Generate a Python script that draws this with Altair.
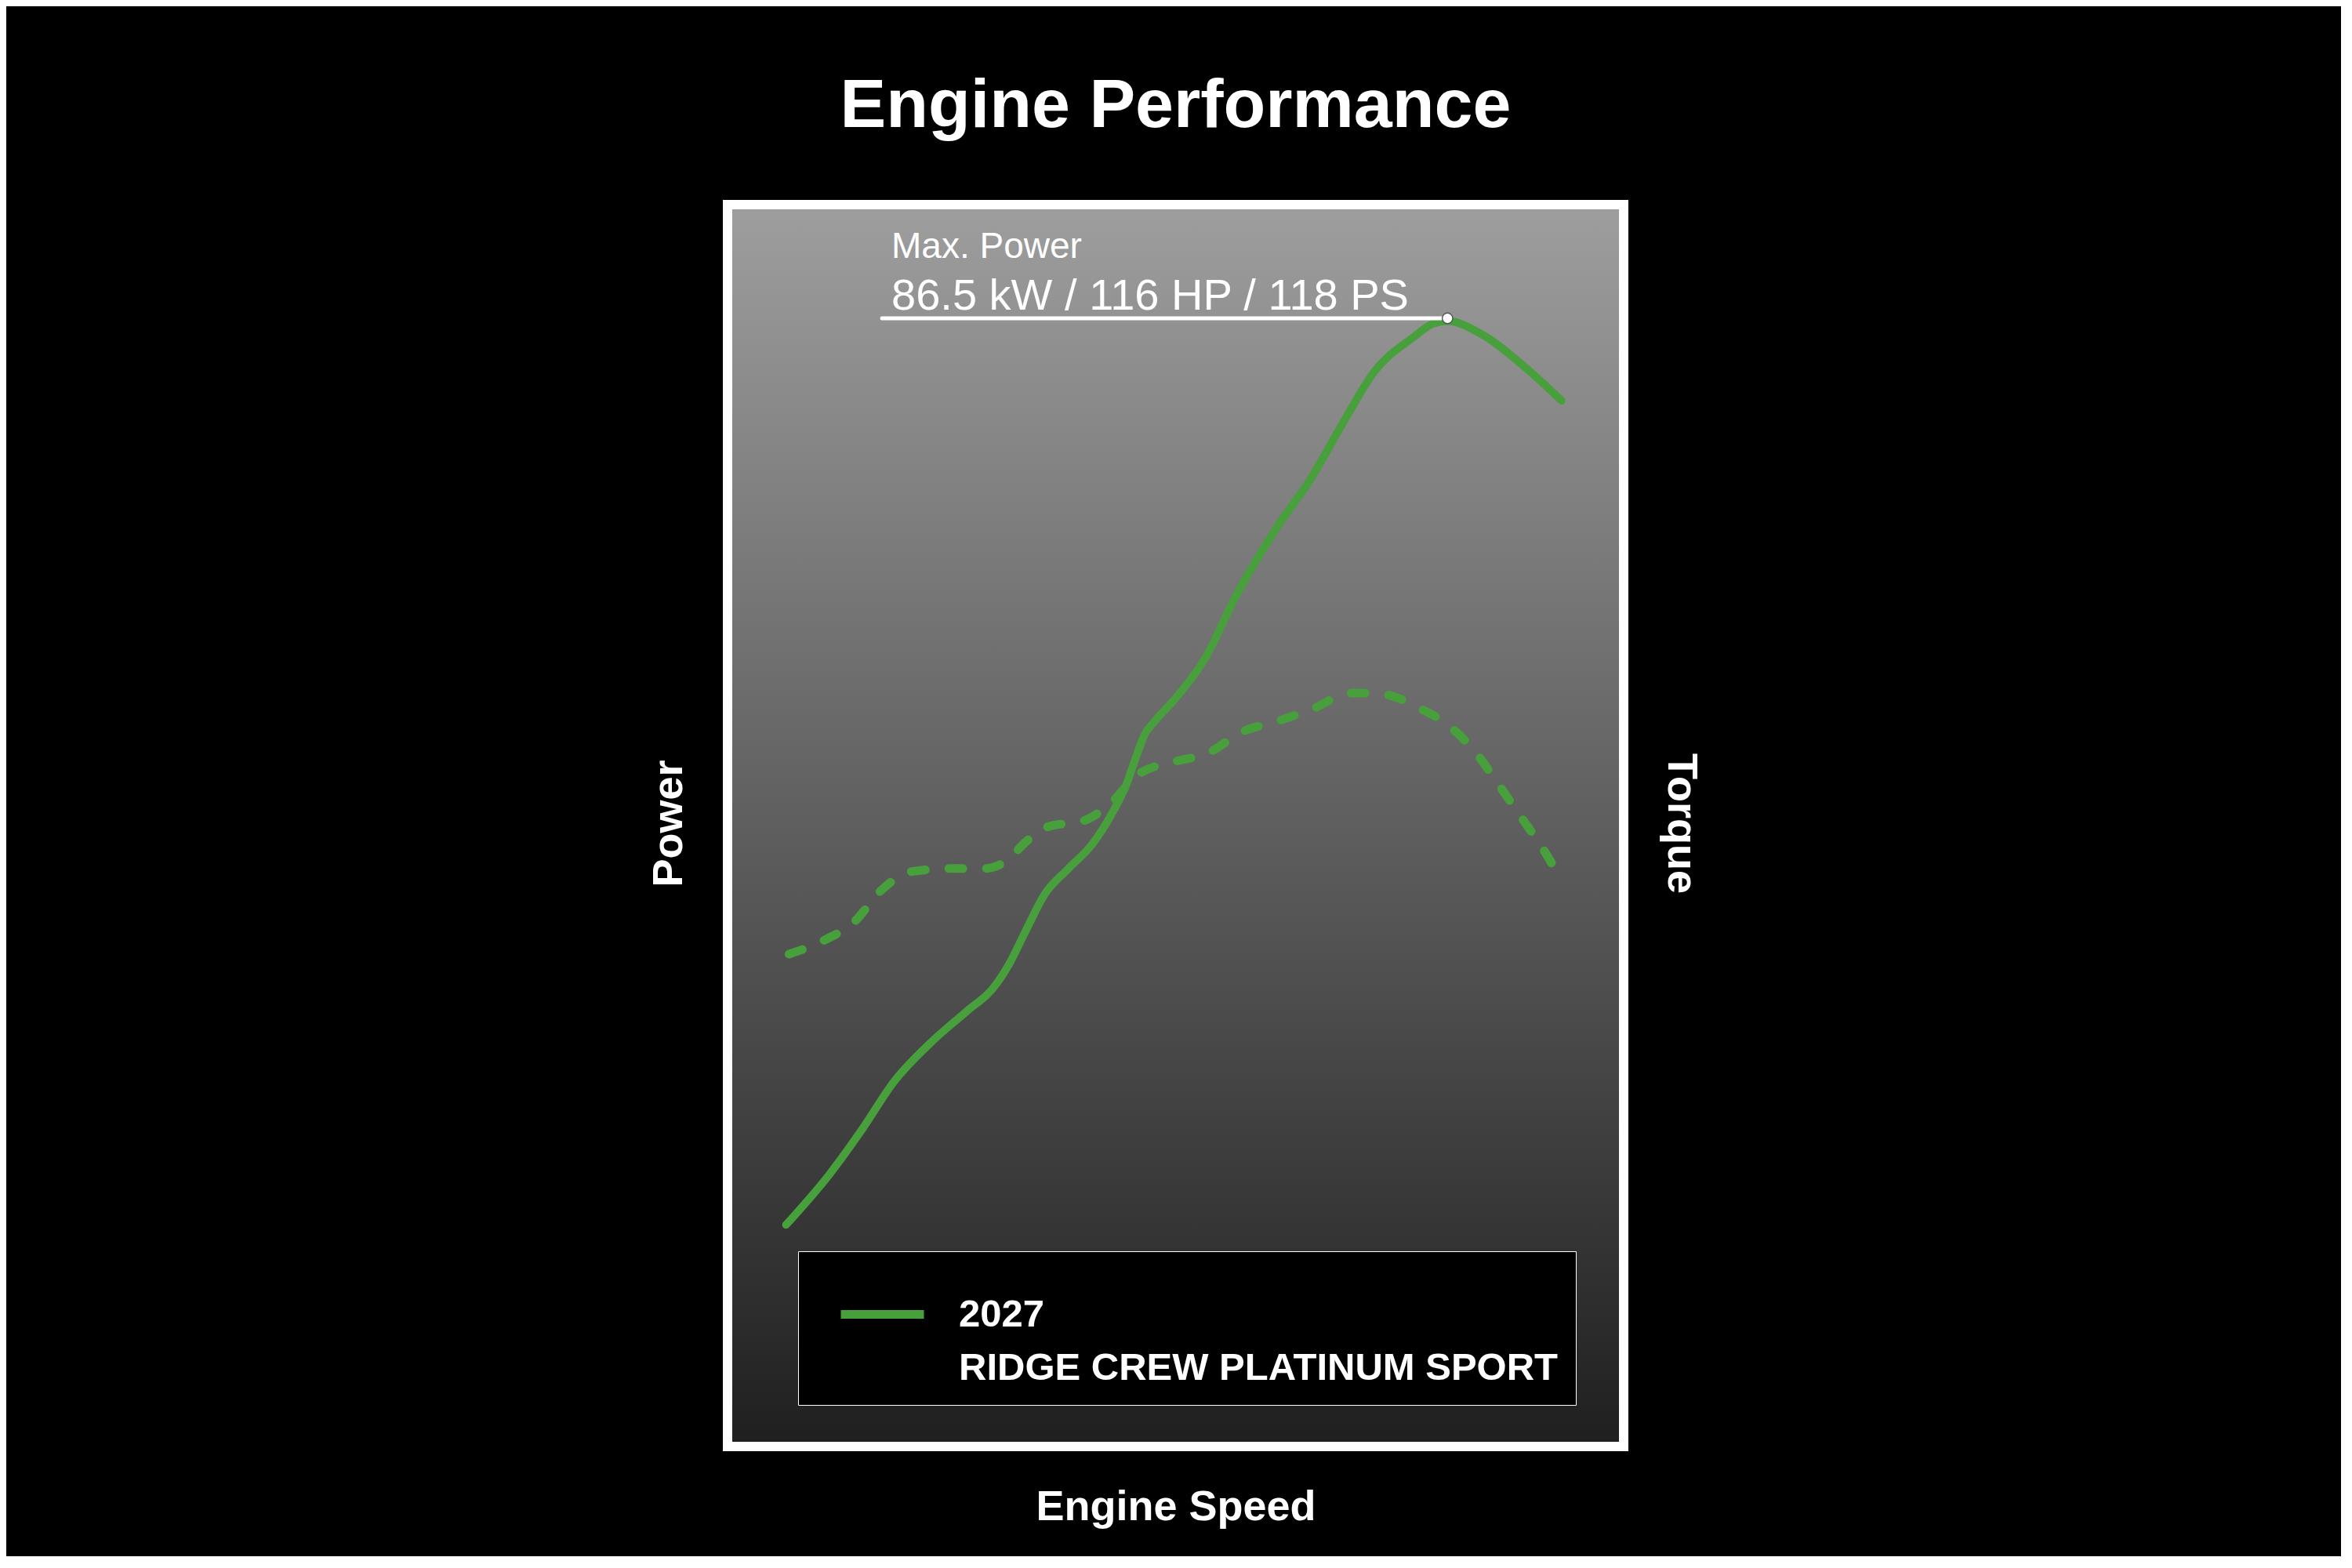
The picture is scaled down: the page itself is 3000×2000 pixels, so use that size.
import altair as alt
import pandas as pd

# ---------------- data ----------------
speed_power = [6.53, 11.37, 15.05, 18.55, 22.66, 26.68, 29.66, 31.41, 33.16, 35.43,
               37.99, 40.68, 42.78, 44.53, 45.67, 46.54, 47.68, 50.04, 53.28, 56.75,
               61.26, 65.11, 68.96, 72.14, 76.49, 78.67, 80.34, 84.19, 89.21, 93.06]
power = [17.85, 21.91, 25.57, 29.36, 32.51, 35.04, 36.93, 38.83, 41.35, 44.51,
         46.50, 48.48, 50.82, 53.35, 55.68, 57.32, 58.40, 60.29, 63.45, 68.52,
         73.96, 77.95, 82.78, 86.52, 89.30, 90.39, 90.63, 89.54, 86.77, 84.22]

speed_torque = [6.86, 10.71, 14.23, 17.07, 20.59, 25.10, 28.79, 31.30, 33.31, 35.82,
                39.72, 42.60, 45.93, 49.69, 53.72, 57.31, 61.26, 65.11, 69.63, 73.32,
                77.17, 80.34, 83.53, 86.04, 88.71, 91.22, 93.06]
torque = [39.65, 40.74, 42.31, 44.73, 46.30, 46.54, 46.54, 47.27, 48.71, 49.92,
          50.38, 51.70, 54.17, 55.11, 55.87, 57.51, 58.38, 59.34, 60.67, 60.55,
          59.46, 58.13, 55.84, 53.30, 50.52, 47.87, 45.57]

legend_label = "2027|RIDGE CREW PLATINUM SPORT"

callout_start = [17.24]
callout_end = [80.34]
callout_level = [90.85]
callout_labels = ["Max. Power", "86.5 kW / 116 HP / 118 PS"]
callout_label_x = [18.29, 18.29]
callout_label_y = [95.71, 91.54]

panel_x = [0]
panel_x2 = [100]
panel_y = [0]
panel_y2 = [100]

# ---------------- tables ----------------
power_df = pd.DataFrame({"speed": speed_power, "power": power, "series": legend_label})
torque_df = pd.DataFrame({"speed": speed_torque, "torque": torque})
rule_df = pd.DataFrame({"x": callout_start, "x2": callout_end, "y": callout_level})
dot_df = pd.DataFrame({"x": callout_end, "y": callout_level})
lab_df = pd.DataFrame({"x": callout_label_x, "y": callout_label_y, "label": callout_labels})
panel_df = pd.DataFrame({"x": panel_x, "x2": panel_x2, "y": panel_y, "y2": panel_y2})

GREEN = "#47a03b"
FONT = "Liberation Sans, Arial, sans-serif"
AXT = 54  # axis title font size

x_scale = alt.Scale(domain=[0, 100], nice=False, zero=False)
y_scale = alt.Scale(domain=[0, 100], nice=False, zero=False)


def xq(field):
    return alt.X(f"{field}:Q", scale=x_scale,
                 axis=alt.Axis(title="Engine Speed", domain=False, ticks=False, labels=False, grid=False,
                               titleX=571.5, titleY=93, titleAlign="center", titleBaseline="alphabetic",
                               titleFont=FONT, titleFontSize=AXT, titleFontWeight="bold",
                               titleColor="white"))


panel = alt.Chart(panel_df).mark_rect(
    fill={"gradient": "linear", "x1": 0, "y1": 0, "x2": 0, "y2": 1,
          "stops": [{"offset": 0, "color": "#9e9e9e"},
                    {"offset": 1, "color": "#1f1f1f"}]},
    stroke="white", strokeWidth=12,
).encode(
    x=xq("x"), x2="x2:Q",
    y=alt.Y("y:Q", scale=y_scale, axis=None), y2="y2:Q",
)

power_line = alt.Chart(power_df).mark_line(
    strokeWidth=10, interpolate="monotone", strokeCap="round", strokeJoin="round"
).encode(
    x=xq("speed"),
    y=alt.Y("power:Q", scale=y_scale,
            axis=alt.Axis(title="Power", orient="left", domain=False, ticks=False, labels=False,
                          grid=False, titleAngle=270, titleX=-75, titleY=789,
                          titleAlign="center", titleBaseline="middle",
                          titleFont=FONT, titleFontSize=AXT, titleFontWeight="bold",
                          titleColor="white")),
    color=alt.Color("series:N",
                    scale=alt.Scale(domain=[legend_label], range=[GREEN]),
                    legend=alt.Legend(title=None, orient="none", legendX=90, legendY=1335,
                                      direction="vertical", padding=22,
                                      fillColor="black", strokeColor="white",
                                      symbolType="stroke", symbolSize=11236,
                                      symbolStrokeWidth=11, symbolOffset=27,
                                      labelOffset=39, labelFont=FONT, labelFontSize=49,
                                      labelFontWeight="bold", labelColor="white",
                                      labelLimit=2000, labelBaseline="middle",
                                      labelExpr="split(datum.label, '|')")),
)

torque_line = alt.Chart(torque_df).mark_line(
    strokeWidth=11, interpolate="monotone", strokeCap="round", strokeDash=[18, 30],
    color=GREEN
).encode(
    x=xq("speed"),
    y=alt.Y("torque:Q", scale=y_scale,
            axis=alt.Axis(title="Torque", orient="right", domain=False, ticks=False, labels=False,
                          grid=False, titleAngle=90, titleX=72, titleY=789,
                          titleAlign="center", titleBaseline="middle",
                          titleFont=FONT, titleFontSize=AXT, titleFontWeight="bold",
                          titleColor="white")),
)

rule = alt.Chart(rule_df).mark_rule(color="white", strokeWidth=5, strokeCap="round").encode(
    x=xq("x"), x2="x2:Q",
    y=alt.Y("y:Q", scale=y_scale, axis=None),
)

dot = alt.Chart(dot_df).mark_point(filled=True, color="white", size=180, opacity=1,
                                   stroke="#555555", strokeWidth=1.5).encode(
    x=xq("x"),
    y=alt.Y("y:Q", scale=y_scale, axis=None),
)


def label_layer(idx, size):
    d = lab_df.iloc[[idx]]
    return alt.Chart(d).mark_text(
        align="left", baseline="alphabetic", font=FONT, fontSize=size, color="white"
    ).encode(x=xq("x"), y=alt.Y("y:Q", scale=y_scale, axis=None), text="label:N")


layers = [panel, torque_line, power_line, rule, dot, label_layer(0, 46), label_layer(1, 56)]

chart = alt.layer(*layers).resolve_scale(y="independent").properties(
    width=1143,
    height=1584,
    padding={"left": 920, "top": 253, "right": 915, "bottom": 140},
    autosize=alt.AutoSizeParams(type="none"),
    background="black",
    title=alt.TitleParams("Engine Performance", anchor="middle", frame="group",
                          font=FONT, fontSize=88, fontWeight="bold", color="white",
                          baseline="alphabetic", offset=5),
).configure_view(
    strokeWidth=0,
).configure_legend(
    strokeWidth=6,
).configure(
    style={"guide-label": {"lineHeight": 68}}
)

chart.save("out.html", embed_options={"renderer": "svg", "actions": False})
